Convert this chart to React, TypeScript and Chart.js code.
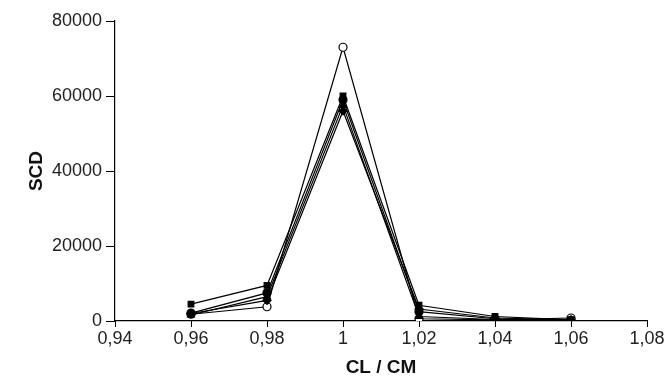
import React, { useEffect, useRef } from "react";
import { Chart, registerables } from "chart.js";

Chart.register(...registerables);

const ratios = [0.96, 0.98, 1, 1.02, 1.04, 1.06];
const seriesOpenCircle = [1800, 3800, 73000, 600, 300, 800];
const seriesSquare = [4500, 9500, 60000, 4200, 1200, 300];
const seriesCircle = [2100, 7500, 59000, 2500, 600, 200];
const seriesTriangle = [1600, 6500, 57500, 1200, 400, 100];
const seriesDiamond = [2000, 5500, 56000, 3200, 800, 300];

const xTitle = "CL / CM";
const yTitle = "SCD";

function toPoints(vals: number[]) {
  return ratios.map((x, i) => ({ x, y: vals[i] }));
}

export default function App() {
  const ref = useRef<HTMLCanvasElement>(null);
  useEffect(() => {
    if (!ref.current) return;
    const mk = (data: number[], style: any, fill: string) => ({
      data: toPoints(data),
      borderColor: "#000",
      borderWidth: 1.2,
      pointStyle: style,
      pointRadius: 4,
      pointBackgroundColor: fill,
      pointBorderColor: "#000",
      pointBorderWidth: 1.2,
      showLine: true,
      tension: 0,
    });
    const chart = new Chart(ref.current, {
      type: "scatter",
      data: {
        datasets: [
          mk(seriesDiamond, "rectRot", "#000"),
          mk(seriesTriangle, "triangle", "#000"),
          mk(seriesCircle, "circle", "#000"),
          mk(seriesSquare, "rect", "#000"),
          mk(seriesOpenCircle, "circle", "#fff"),
        ] as any,
      },
      options: {
        animation: false,
        responsive: false,
        maintainAspectRatio: false,
        layout: { padding: { left: 0, right: 19, top: 21, bottom: 0 } },
        plugins: { legend: { display: false }, tooltip: { enabled: false } },
        scales: {
          x: {
            type: "linear",
            min: 0.94,
            max: 1.08,
            afterFit: (s: any) => {
              s.height = 61;
            },
            ticks: {
              stepSize: 0.02,
              color: "#222",
              font: { family: "Liberation Sans", size: 18 },
              padding: 1,
              maxRotation: 0,
              callback: (v: any) => {
                const n = Number(Number(v).toFixed(2));
                return String(n).replace(".", ",");
              },
            },
            grid: {
              drawOnChartArea: false,
              drawTicks: true,
              tickLength: 6,
              color: "#000",
            },
            border: { display: true, color: "#000", width: 1.2 },
            title: {
              display: true,
              text: xTitle,
              color: "#111",
              font: { family: "Liberation Sans", size: 19, weight: "bold" },
              padding: { top: 0, bottom: 3 },
            },
          },
          y: {
            type: "linear",
            min: 0,
            max: 80000,
            afterFit: (s: any) => {
              s.width = 115;
            },
            ticks: {
              stepSize: 20000,
              color: "#222",
              font: { family: "Liberation Sans", size: 18 },
              padding: 4,
              callback: (v: any) => String(v),
            },
            grid: {
              drawOnChartArea: false,
              drawTicks: true,
              tickLength: 9,
              color: "#000",
            },
            border: { display: true, color: "#000", width: 1.2 },
            title: {
              display: true,
              text: yTitle,
              color: "#111",
              font: { family: "Liberation Sans", size: 19, weight: "bold" },
              padding: { top: 25, bottom: 0 },
            },
          },
        },
      },
    });
    return () => chart.destroy();
  }, []);
  return (
    <div style={{ position: "fixed", left: 0, top: 0, width: 666, height: 382, background: "#fff" }}>
      <canvas ref={ref} width={666} height={382} style={{ width: 666, height: 382 }} />
    </div>
  );
}
